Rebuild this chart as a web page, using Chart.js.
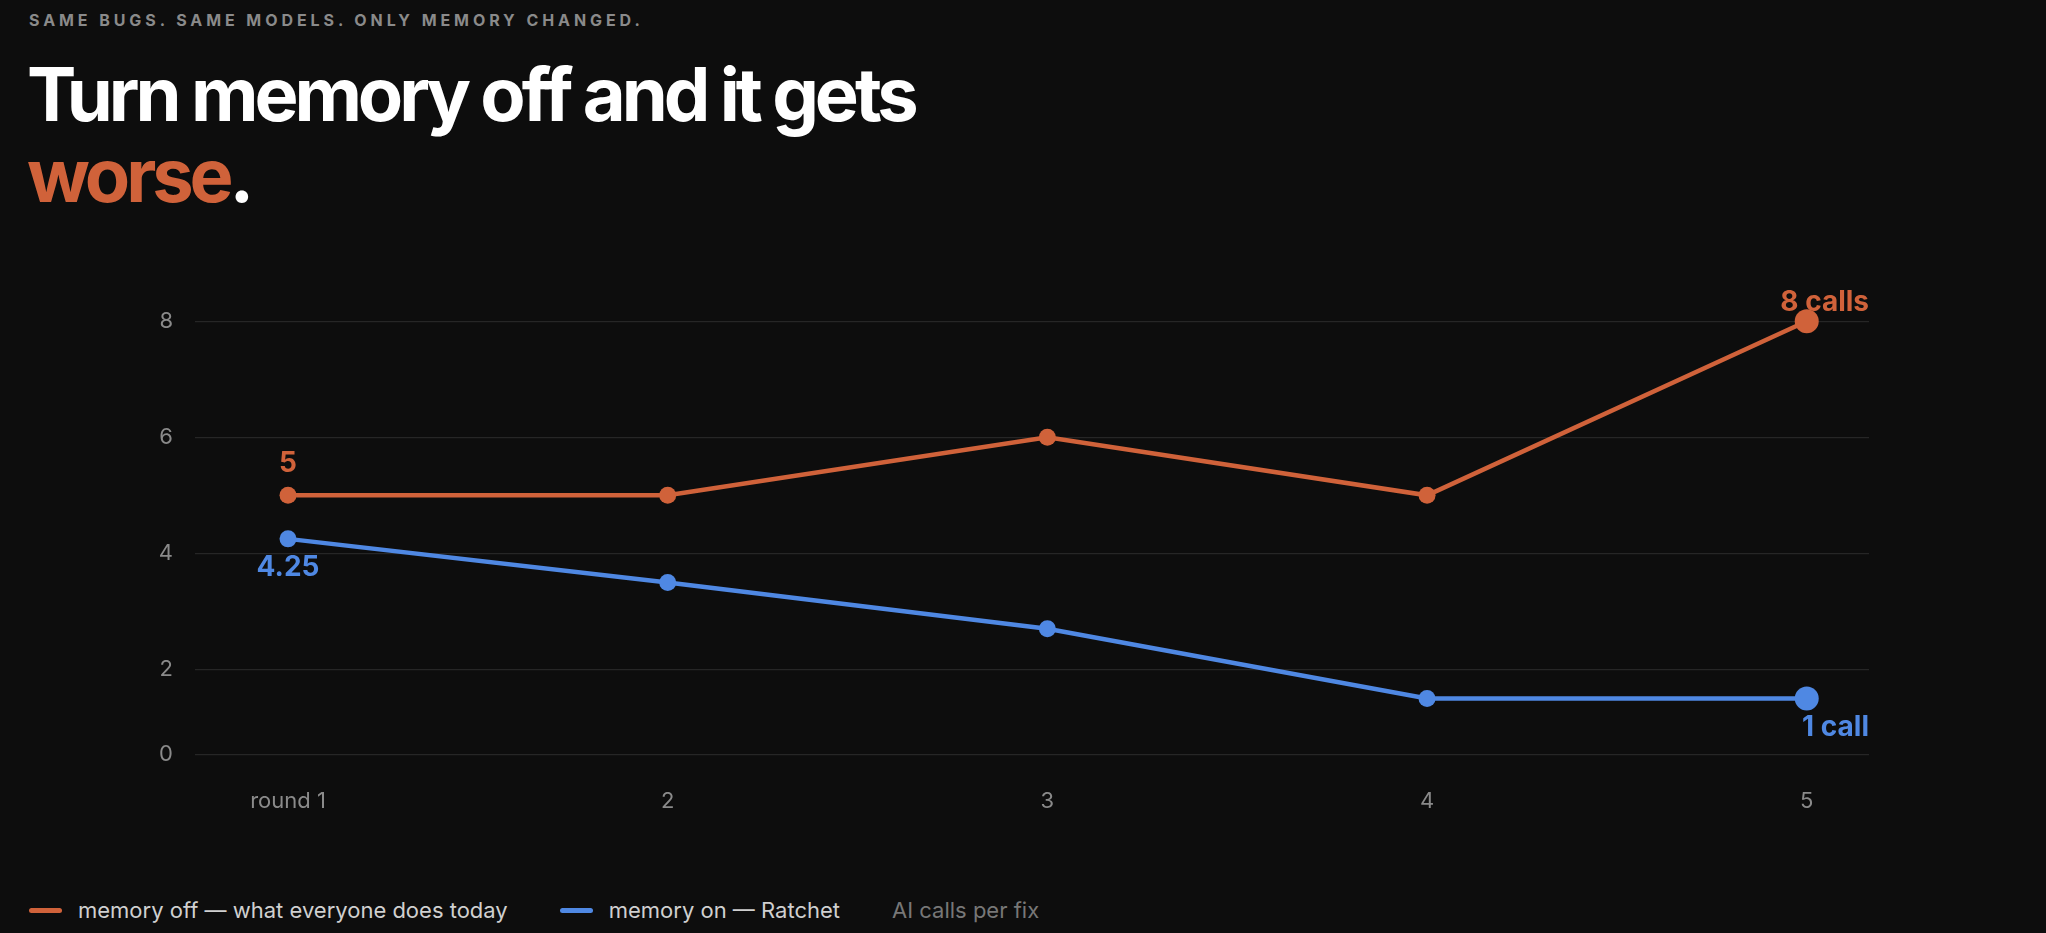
<!DOCTYPE html>
<html>
<head>
<meta charset="utf-8">
<script src="https://cdn.jsdelivr.net/npm/chart.js@4.4.1/dist/chart.umd.min.js"></script>
<style>
  html, body { margin: 0; padding: 0; background: #0d0d0d; }
  body { width: 2046px; height: 933px; position: relative; overflow: hidden; font-family: Inter, "Noto Sans", sans-serif; }
  .kicker { position: absolute; left: 29px; top: 11px; font-size: 16px; line-height: 1.21; font-weight: 700; letter-spacing: 0.245em; color: #8a8a8a; }
  .title { position: absolute; left: 27px; top: 54px; font-size: 74px; font-weight: 700; line-height: 81px; letter-spacing: -0.055em; color: #fff; }
  .title .hot { color: #d0623a; }
  .chart-wrap { position: absolute; left: 0; top: 285.5px; width: 2046px; height: 544.5px; }
  .legend { position: absolute; left: 29px; top: 897px; display: flex; align-items: center; font-size: 22px; color: #d0d0d0; }
  .legend .item { display: flex; align-items: center; margin-right: 52px; }
  .legend .swatch { width: 33px; height: 5px; border-radius: 3px; margin-right: 16px; }
  .legend .note { color: #777; }
</style>
</head>
<body>
<div class="kicker">SAME BUGS. SAME MODELS. ONLY MEMORY CHANGED.</div>
<div class="title">Turn memory off and it gets<br><span class="hot">worse</span>.</div>
<div class="chart-wrap"><canvas id="chart"></canvas></div>
<div class="legend" id="legend"></div>

<script>
// Chart data
const rounds = ['round 1', '2', '3', '4', '5']
const memoryOff = [5, 5, 6, 5, 8]
const memoryOn = [4.25, 3.5, 2.7, 1.5, 1.5]
const memoryOffLabels = ['5', null, null, null, '8 calls']
const memoryOnLabels = ['4.25', null, null, null, '1 call']
const yTicks = [0, 2, 4, 6, 8]
const seriesNames = ['memory off \u2014 what everyone does today', 'memory on \u2014 Ratchet']
const unitNote = 'AI calls per fix'

const ORANGE = '#d0623a'
const BLUE = '#4f88e3'
const TICK = '#8a8a8a'
const GRID = '#262626'

// the bottom gridline sits a bit above zero in the original
const Y_FLOOR = 0.53

const toPoints = (vals) => vals.map((v, i) => ({ x: i + 1, y: v }))

// value labels next to the first and last points
const endLabels = {
  id: 'endLabels',
  afterDatasetsDraw(chart) {
    const ctx = chart.ctx
    const area = chart.chartArea
    const specs = [
      { ds: 0, labels: memoryOffLabels, color: ORANGE, above: true },
      { ds: 1, labels: memoryOnLabels, color: BLUE, above: false },
    ]
    ctx.save()
    ctx.font = '700 28px Inter, "Noto Sans", sans-serif'
    specs.forEach(spec => {
      const meta = chart.getDatasetMeta(spec.ds)
      spec.labels.forEach((text, i) => {
        if (!text) return
        const pt = meta.data[i]
        const last = i === spec.labels.length - 1
        ctx.fillStyle = spec.color
        ctx.textAlign = last ? 'right' : 'center'
        const x = last ? area.right : pt.x
        if (spec.above) {
          ctx.textBaseline = 'alphabetic'
          ctx.fillText(text, x, pt.y - (last ? 10 : 23))
        } else {
          ctx.textBaseline = 'top'
          ctx.fillText(text, x, pt.y + 15)
        }
      })
    })
    ctx.restore()
  }
}

const tickFont = { family: 'Inter, "Noto Sans", sans-serif', size: 22 }

new Chart(document.getElementById('chart'), {
  type: 'line',
  data: {
    datasets: [
      {
        label: seriesNames[0],
        data: toPoints(memoryOff),
        borderColor: ORANGE,
        backgroundColor: ORANGE,
        borderWidth: 4.5,
        pointRadius: [8.5, 8.5, 8.5, 8.5, 12],
        pointBorderWidth: 0,
        tension: 0,
        clip: false,
      },
      {
        label: seriesNames[1],
        data: toPoints(memoryOn),
        borderColor: BLUE,
        backgroundColor: BLUE,
        borderWidth: 4.5,
        pointRadius: [8.5, 8.5, 8.5, 8.5, 12],
        pointBorderWidth: 0,
        tension: 0,
        clip: false,
      }
    ]
  },
  options: {
    responsive: true,
    maintainAspectRatio: false,
    animation: false,
    layout: {
      autoPadding: false,
      // y tick padding (22) + half label height already gives the top gap
      padding: { top: 0, right: 177, bottom: 0, left: 0 }
    },
    plugins: {
      legend: { display: false },
      tooltip: { enabled: false }
    },
    scales: {
      x: {
        type: 'linear',
        min: 0.755,
        max: 5.164,
        grid: { display: false },
        border: { display: false },
        afterFit(scale) { scale.height = 75.7 },
        afterBuildTicks(scale) {
          scale.ticks = rounds.map((_, i) => ({ value: i + 1 }))
        },
        ticks: {
          color: TICK,
          font: tickFont,
          padding: 25,
          maxRotation: 0,
          callback: (value) => rounds[value - 1]
        }
      },
      y: {
        min: Y_FLOOR,
        max: 8,
        grid: { color: GRID, lineWidth: 1.2, drawTicks: false },
        border: { display: false },
        afterFit(scale) { scale.width = 195 },
        afterBuildTicks(scale) {
          scale.ticks = yTicks.map(v => ({ value: v === 0 ? Y_FLOOR : v }))
        },
        ticks: {
          color: TICK,
          font: tickFont,
          padding: 22,
          callback: (value) => value === Y_FLOOR ? String(yTicks[0]) : String(value)
        }
      }
    }
  },
  plugins: [endLabels]
})

// HTML legend built from the series names
const legend = document.getElementById('legend')
const colors = [ORANGE, BLUE]
seriesNames.forEach((name, i) => {
  const item = document.createElement('div')
  item.className = 'item'
  item.innerHTML = `<span class="swatch" style="background:${colors[i]}"></span><span>${name}</span>`
  legend.appendChild(item)
})
const note = document.createElement('div')
note.className = 'note'
note.textContent = unitNote
legend.appendChild(note)
</script>
</body>
</html>
